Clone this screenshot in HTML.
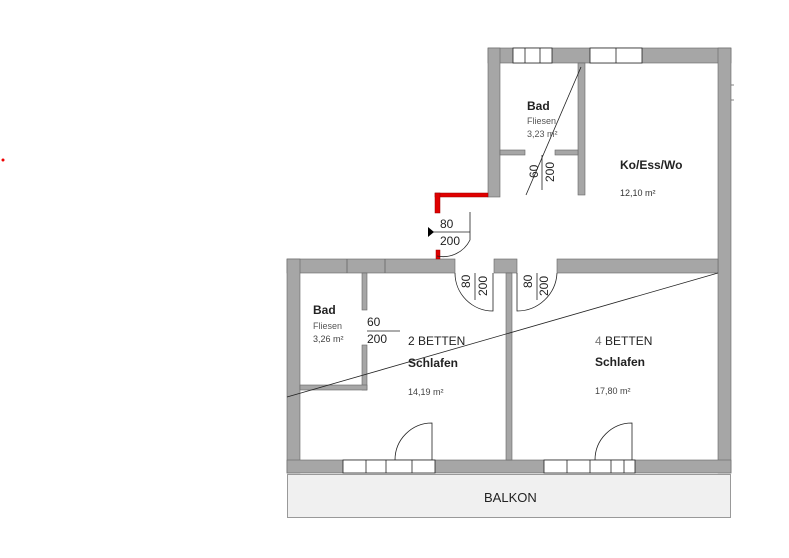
<!DOCTYPE html>
<html><head><style>body{margin:0;background:#fff}svg{display:block}text{font-family:"Liberation Sans",Arial,sans-serif}</style></head>
<body>
<svg width="789" height="558" viewBox="0 0 789 558" xmlns="http://www.w3.org/2000/svg">
<circle cx="3" cy="160" r="1.5" fill="#e00"/>
<g fill="#a6a6a6" stroke="#666" stroke-width="0.6">
<!-- upper block -->
<rect x="488" y="48" width="243" height="15"/>
<rect x="488" y="48" width="12" height="149"/>
<rect x="578" y="63" width="7" height="132"/>
<rect x="718" y="48" width="13" height="425"/>
<rect x="500" y="150" width="25" height="5"/>
<rect x="555" y="150" width="23" height="5"/>
<!-- middle wall -->
<rect x="287" y="259" width="168" height="14"/>
<rect x="494" y="259" width="23" height="14"/>
<rect x="557" y="259" width="161" height="14"/>
<!-- lower block -->
<rect x="287" y="259" width="13" height="214"/>
<rect x="287" y="460" width="444" height="13"/>
<rect x="506" y="273" width="6" height="187"/>
<rect x="362" y="273" width="5" height="37"/>
<rect x="362" y="345" width="5" height="45"/>
<rect x="300" y="385" width="67" height="5"/>
</g>
<!-- wall segment marks -->
<g stroke="#666" stroke-width="0.8">
<line x1="347" y1="259" x2="347" y2="273"/><line x1="385" y1="259" x2="385" y2="273"/>
<line x1="731" y1="85" x2="734" y2="85"/><line x1="731" y1="100" x2="734" y2="100"/>
</g>
<!-- windows -->
<g fill="#fff" stroke="#222" stroke-width="0.8">
<rect x="513" y="48" width="39" height="15"/><line x1="525" y1="48" x2="525" y2="63"/><line x1="540" y1="48" x2="540" y2="63"/>
<rect x="590" y="48" width="52" height="15"/><line x1="616" y1="48" x2="616" y2="63"/>
<rect x="343" y="460" width="92" height="13"/><line x1="366" y1="460" x2="366" y2="473"/><line x1="386" y1="460" x2="386" y2="473"/><line x1="412" y1="460" x2="412" y2="473"/>
<rect x="544" y="460" width="91" height="13"/><line x1="567" y1="460" x2="567" y2="473"/><line x1="590" y1="460" x2="590" y2="473"/><line x1="611" y1="460" x2="611" y2="473"/><line x1="624" y1="460" x2="624" y2="473"/>
</g>
<!-- red walls -->
<g fill="#e00000" stroke="#900" stroke-width="0.5">
<rect x="435" y="193" width="53" height="4"/>
<rect x="435" y="193" width="5" height="20"/>
<rect x="436" y="250" width="4" height="9"/>
</g>
<!-- balkon -->
<rect x="287.5" y="474.5" width="443" height="43" fill="#f0f0f0" stroke="#999"/>
<!-- thin lines -->
<g fill="none" stroke="#222" stroke-width="0.8">
<line x1="287" y1="397" x2="718" y2="273"/>
<line x1="581" y1="67" x2="526" y2="195"/>
<line x1="542" y1="155" x2="542" y2="190"/>
<path d="M432 460 V423 A37 37 0 0 0 395 460"/>
<path d="M632 460 V423 A37 37 0 0 0 595 460"/>
<path d="M455 273 A38 38 0 0 0 493 311 V273"/>
<line x1="475" y1="273" x2="475" y2="300"/>
<path d="M557 273 A40 40 0 0 1 517 311 V273"/>
<line x1="537" y1="273" x2="537" y2="300"/>
<line x1="367" y1="331" x2="400" y2="331"/>
<line x1="432" y1="232" x2="470" y2="232"/>
<path d="M470 212 V240 A30 30 0 0 1 437 256"/>
</g>
<polygon points="428,227 434,232 428,237" fill="#000"/>
<g fill="#222">
<text x="527" y="110" font-size="12" font-weight="bold">Bad</text>
<text x="527" y="124" font-size="9" fill="#555">Fliesen</text>
<text x="527" y="137" font-size="9" fill="#555">3,23 m²</text>
<text x="620" y="169" font-size="12" font-weight="bold">Ko/Ess/Wo</text>
<text x="620" y="196" font-size="9" fill="#333">12,10 m²</text>
<text x="440" y="228" font-size="12">80</text>
<text x="440" y="245" font-size="12">200</text>
<text x="313" y="314" font-size="12" font-weight="bold">Bad</text>
<text x="313" y="329" font-size="9" fill="#555">Fliesen</text>
<text x="313" y="342" font-size="9" fill="#444">3,26 m²</text>
<text x="367" y="326" font-size="12">60</text>
<text x="367" y="343" font-size="12">200</text>
<text x="408" y="345" font-size="12">2 BETTEN</text>
<text x="408" y="367" font-size="12" font-weight="bold">Schlafen</text>
<text x="408" y="395" font-size="9" fill="#444">14,19 m²</text>
<text x="595" y="345" font-size="12"><tspan fill="#777">4</tspan> BETTEN</text>
<text x="595" y="366" font-size="12" font-weight="bold">Schlafen</text>
<text x="595" y="394" font-size="9" fill="#444">17,80 m²</text>
<text x="484" y="502" font-size="13">BALKON</text>
<g font-size="12">
<text transform="translate(538,178) rotate(-90)">60</text>
<text transform="translate(554,182) rotate(-90)">200</text>
<text transform="translate(470,288) rotate(-90)">80</text>
<text transform="translate(487,296) rotate(-90)">200</text>
<text transform="translate(532,288) rotate(-90)">80</text>
<text transform="translate(548,296) rotate(-90)">200</text>
</g>
</g>
</svg>
</body></html>
